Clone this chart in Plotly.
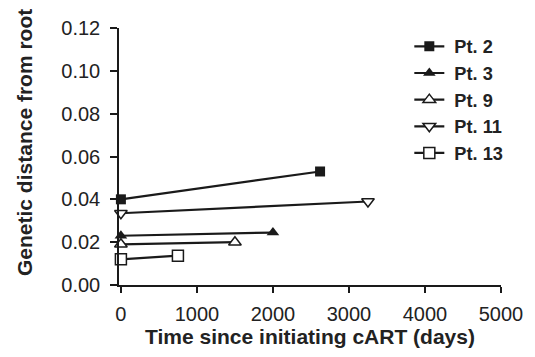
import plotly.graph_objects as go

names = ["Pt. 2", "Pt. 3", "Pt. 9", "Pt. 11", "Pt. 13"]
days = [[0, 2620], [0, 2000], [0, 1500], [0, 3250], [0, 750]]
dist = [[0.040, 0.053], [0.023, 0.0245], [0.019, 0.020], [0.0335, 0.039], [0.012, 0.0137]]
symbols = ["square", "triangle-up", "triangle-up-open", "triangle-down-open", "square-open"]
sizes = [10, 11, 11, 11, 11]

x_ticks = [0, 1000, 2000, 3000, 4000, 5000]
y_ticks = [0.00, 0.02, 0.04, 0.06, 0.08, 0.10, 0.12]

col = "#1a1a1a"
fig = go.Figure()
for n, xs, ys, s, sz in zip(names, days, dist, symbols, sizes):
    is_open = s.endswith("-open")
    fig.add_trace(go.Scatter(
        x=xs, y=ys, name="<b>\u00a0" + n + "</b>", mode="lines+markers", cliponaxis=False,
        line=dict(color=col, width=2.2),
        marker=dict(symbol=s.replace("-open", ""), size=sz,
                    color="white" if is_open else col,
                    line=dict(color=col, width=1.5 if is_open else 0)),
    ))

font = "Liberation Sans, Arial, sans-serif"
fig.update_layout(
    width=535, height=357,
    margin=dict(l=119, r=27, t=28, b=70),
    plot_bgcolor="white", paper_bgcolor="white",
    font=dict(family=font, size=20, color="#222"),
    showlegend=True,
    legend=dict(x=0.76, y=1.0, xanchor="left", yanchor="top",
                font=dict(size=18.2, family=font, color="#222"),
                tracegroupgap=0, itemwidth=30, bgcolor="rgba(0,0,0,0)"),
    xaxis=dict(range=[-25, 5000], tickvals=x_ticks, ticktext=[str(v) for v in x_ticks],
               showgrid=False, zeroline=False, showline=True, linecolor=col, linewidth=1.5,
               ticks="outside", ticklen=6, tickwidth=1.5, tickcolor=col,
               ticklabelstandoff=4,
               title=dict(text="<b>Time since initiating cART (days)</b>", standoff=6,
                          font=dict(size=21))),
    yaxis=dict(range=[0, 0.12], tickvals=y_ticks, ticktext=["%.2f" % v for v in y_ticks],
               showgrid=False, zeroline=False, showline=True, linecolor=col, linewidth=1.5,
               ticks="outside", ticklen=7, tickwidth=1.5, tickcolor=col,
               ticklabelstandoff=6),
    annotations=[dict(text="<b>Genetic distance from root</b>", textangle=-90,
                      xref="paper", yref="paper", x=-0.249, y=0.556,
                      xanchor="center", yanchor="middle", showarrow=False,
                      font=dict(size=21, family=font, color="#222"))],
)
fig.write_html("out.html")
